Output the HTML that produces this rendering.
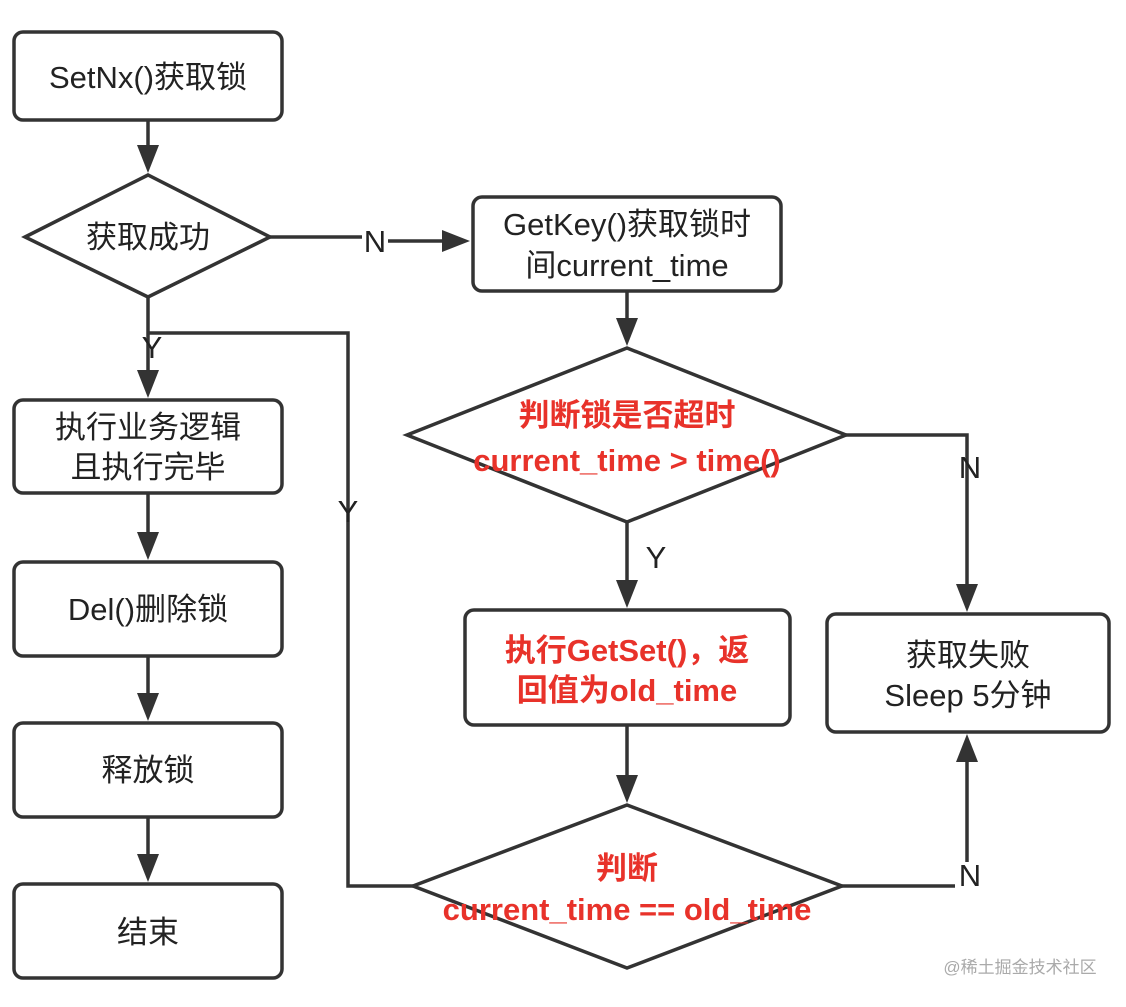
<!DOCTYPE html>
<html><head><meta charset="utf-8"><style>
body{margin:0;background:#fff}
text{font-family:"Liberation Sans","Noto Sans CJK SC",sans-serif}
</style></head><body>
<svg width="1126" height="1002" viewBox="0 0 1126 1002" xmlns="http://www.w3.org/2000/svg">
<style>.s{fill:#fff;stroke:#333;stroke-width:3.5}.l{fill:none;stroke:#333;stroke-width:3.5}.t{font-size:31px;fill:#222;text-anchor:middle}.r{font-size:31px;fill:#e8322a;font-weight:bold;text-anchor:middle}</style>
<g fill="#333">
<path d="M137 145 L159 145 L148 173z"/>
<path d="M442 230 L470 241 L442 252z"/>
<path d="M137 370 L159 370 L148 398z"/>
<path d="M137 532 L159 532 L148 560z"/>
<path d="M137 693 L159 693 L148 721z"/>
<path d="M137 854 L159 854 L148 882z"/>
<path d="M616 318 L638 318 L627 346z"/>
<path d="M616 580 L638 580 L627 608z"/>
<path d="M616 775 L638 775 L627 803z"/>
<path d="M956 584 L978 584 L967 612z"/>
<path d="M956 762 L978 762 L967 734z"/>
</g>
<g class="l">
<path d="M148 120V147"/>
<path d="M148 297V372"/>
<path d="M270 237H362M388 241H444"/>
<path d="M148 493V534M148 656V695M148 817V856"/>
<path d="M627 291V320M627 522V582M627 725V777"/>
<path d="M413 886H348V333H148"/>
<path d="M846 435H967V586"/>
<path d="M842 886H955M967 862V760"/>
</g>
<rect class="s" x="14" y="32" width="268" height="88" rx="9"/>
<polygon class="s" points="25,237 148,175 270,237 148,297"/>
<rect class="s" x="473" y="197" width="308" height="94" rx="9"/>
<rect class="s" x="14" y="400" width="268" height="93" rx="9"/>
<rect class="s" x="14" y="562" width="268" height="94" rx="9"/>
<rect class="s" x="14" y="723" width="268" height="94" rx="9"/>
<rect class="s" x="14" y="884" width="268" height="94" rx="9"/>
<polygon class="s" points="407,435 627,348 846,435 627,522"/>
<rect class="s" x="465" y="610" width="325" height="115" rx="9"/>
<polygon class="s" points="413,886 627,805 842,886 627,968"/>
<rect class="s" x="827" y="614" width="282" height="118" rx="9"/>
<text class="t" x="148" y="88">SetNx()获取锁</text>
<text class="t" x="148" y="248">获取成功</text>
<text class="t" x="375" y="252">N</text>
<text class="t" x="627" y="235">GetKey()获取锁时</text>
<text class="t" x="627" y="276">间current_time</text>
<text class="t" x="152" y="358">Y</text>
<text class="t" x="148" y="438">执行业务逻辑</text>
<text class="t" x="148" y="478">且执行完毕</text>
<text class="t" x="148" y="620">Del()删除锁</text>
<text class="t" x="148" y="781">释放锁</text>
<text class="t" x="148" y="943">结束</text>
<text class="t" x="348" y="522">Y</text>
<text class="r" x="627" y="426">判断锁是否超时</text>
<text class="r" x="627" y="471">current_time &gt; time()</text>
<text class="t" x="656" y="568">Y</text>
<text class="r" x="627" y="661">执行GetSet()，返</text>
<text class="r" x="627" y="701">回值为old_time</text>
<text class="t" x="970" y="478">N</text>
<text class="t" x="968" y="666">获取失败</text>
<text class="t" x="968" y="706">Sleep 5分钟</text>
<text class="r" x="627" y="879">判断</text>
<text class="r" x="627" y="920">current_time == old_time</text>
<text class="t" x="970" y="886">N</text>
<text x="1020" y="973" style="font-size:17px;fill:#aaa;text-anchor:middle">@稀土掘金技术社区</text>
</svg>
</body></html>
